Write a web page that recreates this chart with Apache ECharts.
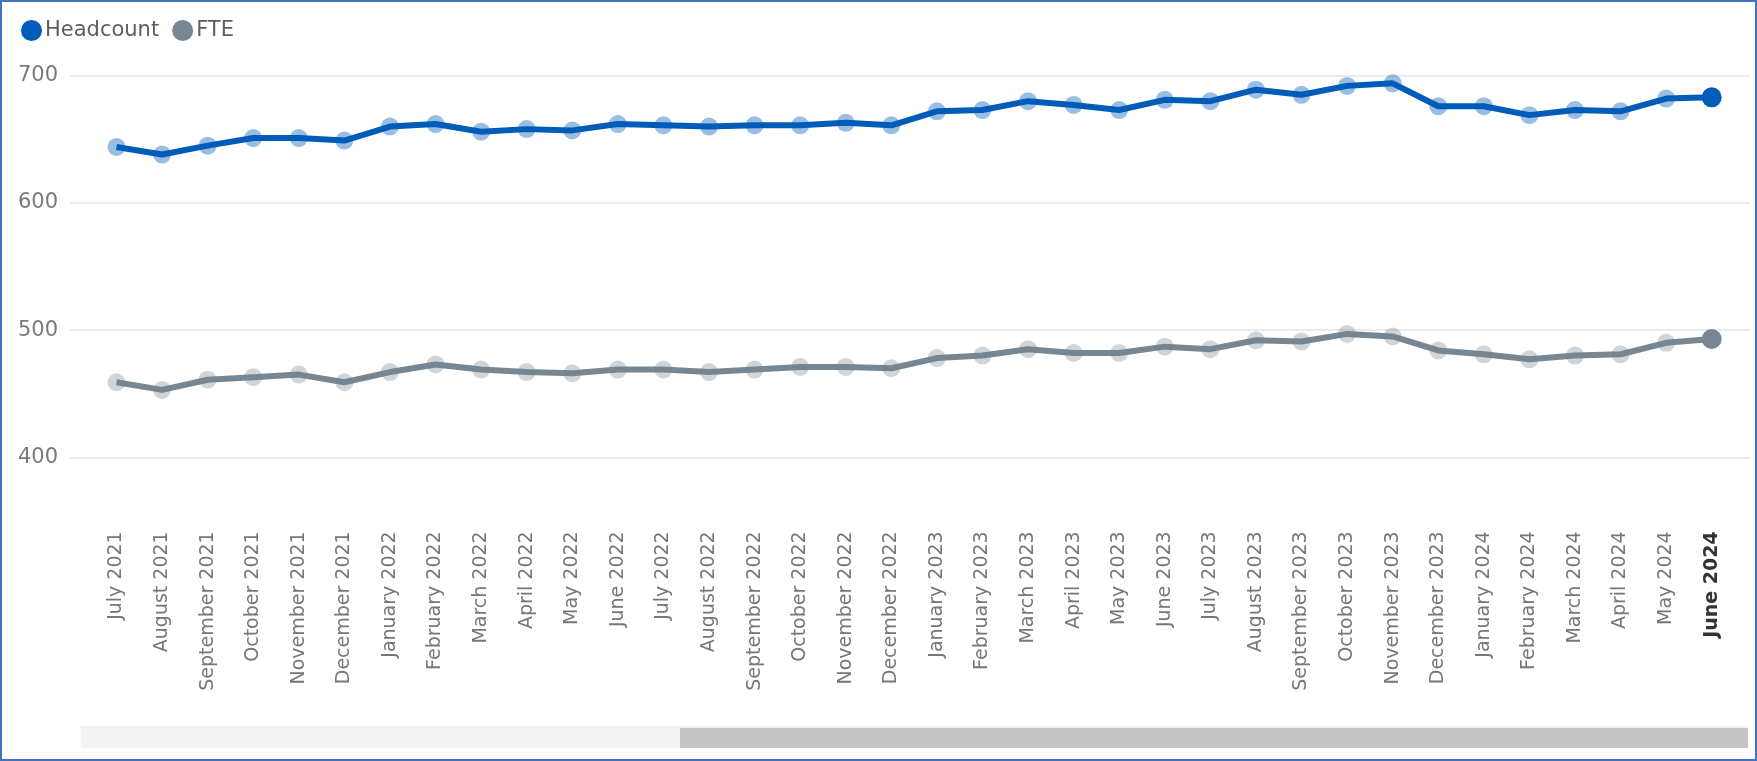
<!DOCTYPE html>
<html>
<head>
<meta charset="utf-8">
<script src="https://cdn.jsdelivr.net/npm/echarts@6/dist/echarts.min.js"></script>
<style>
  html, body { margin: 0; padding: 0; background: #fff; }
  #chart { position: absolute; left: 0; top: 0; width: 1757px; height: 761px; }
  #frame { position: absolute; left: 0; top: 0; width: 1757px; height: 761px; box-sizing: border-box; border: 2px solid #4472c4; pointer-events: none; }
</style>
</head>
<body>
<div id="chart"></div>
<div id="frame"></div>
<script>
const categories = [
  'July 2021','August 2021','September 2021','October 2021','November 2021','December 2021',
  'January 2022','February 2022','March 2022','April 2022','May 2022','June 2022',
  'July 2022','August 2022','September 2022','October 2022','November 2022','December 2022',
  'January 2023','February 2023','March 2023','April 2023','May 2023','June 2023',
  'July 2023','August 2023','September 2023','October 2023','November 2023','December 2023',
  'January 2024','February 2024','March 2024','April 2024','May 2024','June 2024'
];
const headcount = [644, 638, 645, 651, 651, 649, 660, 662, 656, 658, 657, 662,
                   661, 660, 661, 661, 663, 661, 672, 673, 680, 677, 673, 681,
                   680, 689, 685, 692, 694, 676, 676, 669, 673, 672, 682, 683];
const fte = [459, 453, 461, 463, 465, 459, 467, 473, 469, 467, 466, 469,
             469, 467, 469, 471, 471, 470, 478, 480, 485, 482, 482, 487,
             485, 492, 491, 497, 495, 484, 481, 477, 480, 481, 490, 493];
const yTicks = { min: 400, max: 700, interval: 100 };

const BLUE = '#005cb8';
const GRAY = '#768692';
const FONT = 'DejaVu Sans';

function seriesData(values, color) {
  return values.map((v, i) => i === values.length - 1
    ? { value: v, symbolSize: 20, itemStyle: { color: color, opacity: 1 } }
    : v);
}

const chart = echarts.init(document.getElementById('chart'), null, { renderer: 'canvas' });
const gridTop = 75.7, gridBottom = 761 - 457.3;
chart.setOption({
  animation: false,
  backgroundColor: '#ffffff',
  legend: {
    left: 16, top: 15,
    icon: 'circle', itemWidth: 21, itemHeight: 21, itemGap: 13,
    textStyle: { fontFamily: FONT, fontSize: 21, color: '#605e5c', padding: [0, 0, 0, -2] },
    data: [
      { name: 'Headcount', itemStyle: { color: BLUE, opacity: 1 } },
      { name: 'FTE', itemStyle: { color: GRAY, opacity: 1 } }
    ]
  },
  grid: [
    { left: 93.7, right: 22.5, top: gridTop, bottom: gridBottom },
    { left: 70, right: 7, top: gridTop, bottom: gridBottom }
  ],
  xAxis: [
    {
      type: 'category', gridIndex: 0, data: categories, boundaryGap: true,
      axisLine: { show: false }, axisTick: { show: false },
      axisLabel: {
        interval: 0, rotate: 90, margin: 74,
        fontFamily: FONT, fontSize: 19, color: '#777777',
        formatter: (v, i) => i === categories.length - 1 ? '{b|' + v + '}' : v,
        rich: { b: { fontFamily: FONT, fontSize: 19, fontWeight: 'bold', color: '#333333' } }
      }
    },
    { type: 'value', gridIndex: 1, show: false, min: 0, max: 1 }
  ],
  yAxis: [
    { type: 'value', gridIndex: 0, min: yTicks.min, max: yTicks.max, interval: yTicks.interval, show: false, splitLine: { show: false } },
    {
      type: 'value', gridIndex: 1, min: yTicks.min, max: yTicks.max, interval: yTicks.interval,
      axisLine: { show: false }, axisTick: { show: false },
      axisLabel: { fontFamily: FONT, fontSize: 21, color: '#7a7a7a', margin: 12 },
      splitLine: { lineStyle: { color: '#ebebeb', width: 2 } }
    }
  ],
  series: [
    {
      name: 'Headcount', type: 'line', xAxisIndex: 0, yAxisIndex: 0, clip: false,
      data: seriesData(headcount, BLUE),
      lineStyle: { color: BLUE, width: 6 },
      symbol: 'circle', symbolSize: 18, showAllSymbol: true,
      itemStyle: { color: BLUE, opacity: 0.4, borderWidth: 0 },
      emphasis: { disabled: true }, z: 3
    },
    {
      name: 'FTE', type: 'line', xAxisIndex: 0, yAxisIndex: 0, clip: false,
      data: seriesData(fte, GRAY),
      lineStyle: { color: GRAY, width: 6 },
      symbol: 'circle', symbolSize: 18, showAllSymbol: true,
      itemStyle: { color: GRAY, opacity: 0.35, borderWidth: 0 },
      emphasis: { disabled: true }, z: 2
    }
  ],
  graphic: [
    { type: 'rect', shape: { x: 80.7, y: 726, width: 1667.3, height: 22 }, style: { fill: '#f3f3f3' }, silent: true },
    { type: 'rect', shape: { x: 680, y: 728, width: 1068, height: 20 }, style: { fill: '#c4c4c4' }, silent: true }
  ]
});
</script>
</body>
</html>
